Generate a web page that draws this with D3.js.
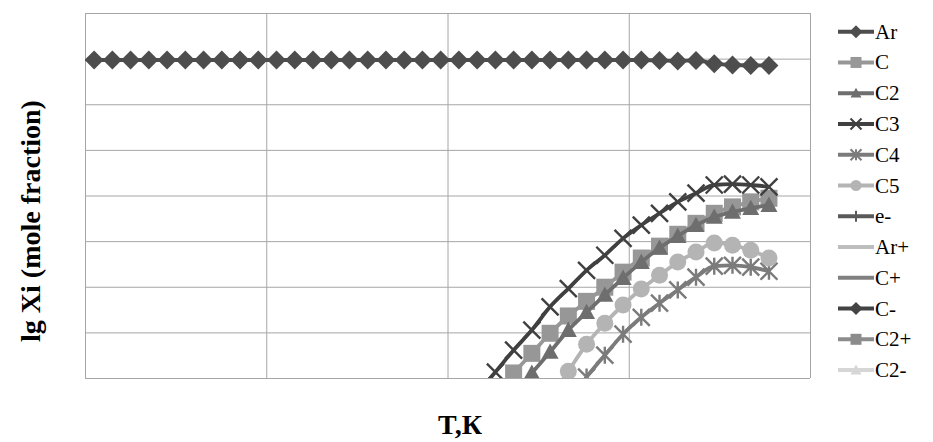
<!DOCTYPE html>
<html>
<head>
<meta charset="utf-8">
<script src="https://cdn.jsdelivr.net/npm/d3@7"></script>
<style>
  body { margin: 0; background: #fff; }
  svg { display: block; }
</style>
</head>
<body>
<svg></svg>
<script>
// --------------- data

// temperature points (K), axis labels are hidden in the original
const temps = [300, 500, 700, 900, 1100, 1300, 1500, 1700, 1900, 2100,
  2300, 2500, 2700, 2900, 3100, 3300, 3500, 3700, 3900, 4100,
  4300, 4500, 4700, 4900, 5100, 5300, 5500, 5700, 5900, 6100,
  6300, 6500, 6700, 6900, 7100, 7300, 7500, 7700];

const yTicks = [-7, -6, -5, -4, -3, -2, -1, 0, 1];

// lg Xi, null = not drawn
const arVals = [-0.03, -0.03, -0.03, -0.03, -0.03, -0.03, -0.03, -0.03, -0.03, -0.03,
  -0.03, -0.03, -0.03, -0.03, -0.03, -0.03, -0.03, -0.03, -0.03, -0.03,
  -0.03, -0.03, -0.03, -0.03, -0.03, -0.03, -0.03, -0.03, -0.03, -0.03,
  -0.03, -0.04, -0.05, -0.04, -0.11, -0.14, -0.15, -0.15];
const cVals = [null, null, null, null, null, null, null, null, null, null,
  null, null, null, null, null, null, null, null, null, null,
  null, null, -7.35, -6.89, -6.46, -6.02, -5.64, -5.32, -5.01, -4.68,
  -4.37, -4.11, -3.85, -3.61, -3.39, -3.25, -3.14, -3.06];
const c2Vals = [null, null, null, null, null, null, null, null, null, null,
  null, null, null, null, null, null, null, null, null, null,
  null, null, null, -7.3, -6.89, -6.43, -5.95, -5.56, -5.18, -4.81,
  -4.46, -4.15, -3.89, -3.65, -3.47, -3.36, -3.28, -3.21];
const c3Vals = [null, null, null, null, null, null, null, null, null, null,
  null, null, null, null, null, null, null, null, null, null,
  null, -7.35, -6.87, -6.39, -5.95, -5.44, -5.04, -4.64, -4.31, -3.94,
  -3.65, -3.39, -3.14, -2.95, -2.77, -2.75, -2.77, -2.81];
const c4Vals = [null, null, null, null, null, null, null, null, null, null,
  null, null, null, null, null, null, null, null, null, null,
  null, null, null, null, null, null, -7.55, -6.98, -6.5, -6.04,
  -5.67, -5.36, -5.07, -4.79, -4.55, -4.53, -4.57, -4.66];
const c5Vals = [null, null, null, null, null, null, null, null, null, null,
  null, null, null, null, null, null, null, null, null, null,
  null, null, null, null, null, -7.45, -6.85, -6.26, -5.8, -5.4,
  -5.05, -4.75, -4.46, -4.24, -4.04, -4.09, -4.2, -4.37];
// these stay below the visible range
const eVals = [];
const arPlusVals = [];
const cPlusVals = [];
const cMinusVals = [];
const c2PlusVals = [];
const c2MinusVals = [];

const seriesNames = ['Ar', 'C', 'C2', 'C3', 'C4', 'C5', 'e-', 'Ar+', 'C+', 'C-', 'C2+', 'C2-'];
const seriesValues = [arVals, cVals, c2Vals, c3Vals, c4Vals, c5Vals,
  eVals, arPlusVals, cPlusVals, cMinusVals, c2PlusVals, c2MinusVals];
const seriesColors = ['#4d4d4d', '#979797', '#6e6e6e', '#404040', '#7b7b7b', '#b4b4b4',
  '#5a5a5a', '#bdbdbd', '#808080', '#434343', '#8c8c8c', '#d6d6d6'];
const seriesMarkers = ['diamond', 'square', 'triangle', 'x', 'asterisk', 'circle',
  'plus', 'dash', 'dash', 'diamond', 'square', 'triangle'];

// --------------- setup
const width = 933;
const height = 442;
const plotLeft = 85;
const plotRight = 810;
const plotTop = 13;
const plotBottom = 378;

const svg = d3.select('svg')
  .attr('width', width)
  .attr('height', height);

const xScale = d3.scaleLinear()
  .domain([200, 8150])
  .range([plotLeft, plotRight]);

const yScale = d3.scaleLinear()
  .domain([d3.min(yTicks), d3.max(yTicks)])
  .range([plotBottom, plotTop]);

// marker shapes, roughly like the excel ones
function markerPath(type, r) {
  if (type === 'diamond') return 'M0,' + (-r) + 'L' + r + ',0L0,' + r + 'L' + (-r) + ',0Z';
  if (type === 'square') return 'M' + (-r) + ',' + (-r) + 'h' + (2 * r) + 'v' + (2 * r) + 'h' + (-2 * r) + 'Z';
  if (type === 'triangle') return 'M0,' + (-r) + 'L' + r + ',' + (r * 0.8) + 'L' + (-r) + ',' + (r * 0.8) + 'Z';
  if (type === 'circle') return d3.symbol(d3.symbolCircle, Math.PI * r * r)();
  if (type === 'x') return 'M' + (-r) + ',' + (-r) + 'L' + r + ',' + r + 'M' + (-r) + ',' + r + 'L' + r + ',' + (-r);
  if (type === 'asterisk') return 'M' + (-r) + ',' + (-r) + 'L' + r + ',' + r + 'M' + (-r) + ',' + r + 'L' + r + ',' + (-r) + 'M0,' + (-r) + 'L0,' + r;
  if (type === 'plus') return 'M0,' + (-r) + 'L0,' + r + 'M' + (-r) + ',0L' + r + ',0';
  return 'M' + (-r) + ',0L' + r + ',0';
}
function isStroked(type) {
  return type === 'x' || type === 'asterisk' || type === 'plus' || type === 'dash';
}

// --------------- grid
svg.append('defs').append('clipPath').attr('id', 'plotClip')
  .append('rect')
  .attr('x', plotLeft).attr('y', plotTop)
  .attr('width', plotRight - plotLeft).attr('height', plotBottom - plotTop);

const xGrid = d3.range(5).map(function (k) {
  const d = xScale.domain();
  return d[0] + k * (d[1] - d[0]) / 4;
});

svg.append('g')
  .attr('transform', 'translate(0,' + plotBottom + ')')
  .call(d3.axisBottom(xScale).tickValues(xGrid).tickSize(-(plotBottom - plotTop)).tickFormat(''))
  .call(function (g) { g.select('.domain').remove(); })
  .selectAll('line').attr('stroke', '#a6a6a6');

svg.append('g')
  .attr('transform', 'translate(' + plotLeft + ',0)')
  .call(d3.axisLeft(yScale).tickValues(yTicks).tickSize(-(plotRight - plotLeft)).tickFormat(''))
  .call(function (g) { g.select('.domain').remove(); })
  .selectAll('line').attr('stroke', '#a6a6a6');

// --------------- series
const plot = svg.append('g').attr('clip-path', 'url(#plotClip)');

const line = d3.line()
  .defined(function (d) { return d.v != null; })
  .x(function (d) { return xScale(d.t); })
  .y(function (d) { return yScale(d.v); })
  .curve(d3.curveMonotoneX);

seriesNames.forEach(function (name, s) {
  const pts = seriesValues[s].map(function (v, i) { return { t: temps[i], v: v }; });
  const color = seriesColors[s];
  const type = seriesMarkers[s];
  if (!pts.length) return;

  plot.append('path')
    .datum(pts)
    .attr('fill', 'none')
    .attr('stroke', color)
    .attr('stroke-width', 3.8)
    .attr('d', line);

  plot.selectAll(null)
    .data(pts.filter(function (d) { return d.v != null; }))
    .enter()
    .append('path')
    .attr('transform', function (d) { return 'translate(' + xScale(d.t) + ',' + yScale(d.v) + ')'; })
    .attr('d', markerPath(type, type === 'diamond' ? 9.5 : 8.5))
    .attr('fill', isStroked(type) ? 'none' : color)
    .attr('stroke', isStroked(type) ? color : 'none')
    .attr('stroke-width', 2.4);
});

// --------------- legend
const legend = svg.append('g').attr('font-family', '"Liberation Serif", "Times New Roman", serif');
seriesNames.forEach(function (name, s) {
  const y = 31.7 + s * 30.76;
  const color = seriesColors[s];
  const type = seriesMarkers[s];
  const row = legend.append('g');
  row.append('line')
    .attr('x1', 838).attr('x2', 874)
    .attr('y1', y).attr('y2', y)
    .attr('stroke', color).attr('stroke-width', 4);
  row.append('path')
    .attr('transform', 'translate(856,' + y + ')')
    .attr('d', markerPath(type, type === 'diamond' ? 6.5 : 5.5))
    .attr('fill', isStroked(type) ? 'none' : color)
    .attr('stroke', isStroked(type) ? color : 'none')
    .attr('stroke-width', 2);
  row.append('text')
    .attr('x', 875).attr('y', y + 7)
    .attr('font-size', 21)
    .attr('fill', '#000')
    .text(name);
});

// --------------- axis titles
svg.append('text')
  .attr('transform', 'translate(40,221) rotate(-90)')
  .attr('text-anchor', 'middle')
  .attr('font-family', '"Liberation Serif", "Times New Roman", serif')
  .attr('font-weight', 'bold')
  .attr('font-size', 28)
  .text('lg Xi (mole fraction)');

svg.append('text')
  .attr('x', 460).attr('y', 434)
  .attr('text-anchor', 'middle')
  .attr('font-family', '"Liberation Serif", "Times New Roman", serif')
  .attr('font-weight', 'bold')
  .attr('font-size', 28)
  .text('T,К');
</script>
</body>
</html>
